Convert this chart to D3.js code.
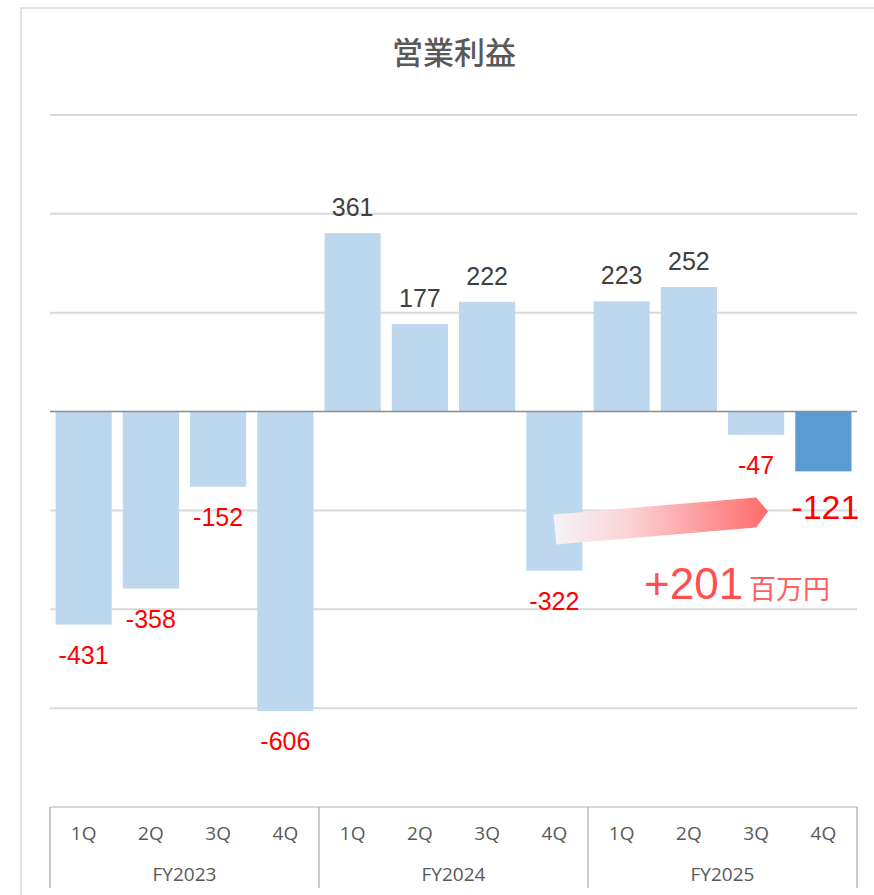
<!DOCTYPE html>
<html lang="ja">
<head>
    <meta charset="UTF-8">
    <title>営業利益</title>
    <script src="https://cdn.jsdelivr.net/npm/d3@7"></script>
    <style>
        body { margin: 0; background: #ffffff; }
        svg { display: block; }
    </style>
</head>
<body>
    <div id="graphDiv"></div>

    <script>
        // chart data
        var fiscalYears = ["FY2023", "FY2024", "FY2025"]
        var quarters = ["1Q", "2Q", "3Q", "4Q"]
        var profit = [-431, -358, -152, -606, 361, 177, 222, -322, 223, 252, -47, -121]
        var yTicks = [-800, -600, -400, -200, 0, 200, 400, 600]
        var chartTitle = "営業利益"
        var diffValue = "+201"
        var diffUnit = "百万円"

        var width = 874
        var height = 895
        var plotLeft = 50, plotRight = 857, plotTop = 115, plotBottom = 807

        var svg = d3.select('#graphDiv')
                    .append('svg')
                    .attr('width', width)
                    .attr('height', height)

        // outer chart frame
        svg.append('rect')
            .attr('x', 21).attr('y', 8)
            .attr('width', 900).attr('height', 950)
            .attr('fill', '#fff')
            .attr('stroke', '#d9d9d9')
            .attr('stroke-width', 1.5)

        svg.append('text')
            .attr('x', 454).attr('y', 64)
            .attr('text-anchor', 'middle')
            .attr('font-family', '"Noto Sans CJK JP", sans-serif')
            .attr('font-size', 31)
            .attr('font-weight', 500)
            .attr('fill', '#595959')
            .text(chartTitle)

        // one band per quarter
        var keys = []
        fiscalYears.forEach(fy => quarters.forEach(q => keys.push(fy + '-' + q)))

        var xScale = d3.scaleBand()
                        .domain(keys)
                        .range([plotLeft, plotRight])
                        .paddingInner(0.165)
                        .paddingOuter(0.0825)

        var yScale = d3.scaleLinear()
                        .domain([-800, 600])
                        .range([plotBottom, plotTop])

        // gridlines
        svg.append('g')
            .selectAll('line')
            .data(yTicks.filter(t => t !== 0 && t !== -800))
            .join('line')
            .attr('x1', plotLeft).attr('x2', plotRight)
            .attr('y1', d => yScale(d)).attr('y2', d => yScale(d))
            .attr('stroke', '#d9d9d9')
            .attr('stroke-width', 2)

        // bars
        var data = profit.map((v, i) => ({ key: keys[i], value: v, last: i === profit.length - 1 }))

        svg.append('g')
            .selectAll('rect')
            .data(data)
            .join('rect')
            .attr('x', d => xScale(d.key))
            .attr('y', d => yScale(Math.max(0, d.value)))
            .attr('width', xScale.bandwidth())
            .attr('height', d => Math.abs(yScale(d.value) - yScale(0)))
            .attr('fill', d => d.last ? '#5b9bd5' : '#bdd7ee')

        // zero line
        svg.append('line')
            .attr('x1', plotLeft).attr('x2', plotRight)
            .attr('y1', yScale(0)).attr('y2', yScale(0))
            .attr('stroke', '#8c8c8c')
            .attr('stroke-width', 1.5)

        // value labels
        svg.append('g')
            .selectAll('text')
            .data(data)
            .join('text')
            .attr('x', d => xScale(d.key) + xScale.bandwidth() / 2 + (d.last ? 2 : 0))
            .attr('y', d => d.value >= 0 ? yScale(d.value) - 17 : yScale(d.value) + (d.last ? 48 : 39))
            .attr('text-anchor', 'middle')
            .attr('font-family', '"Liberation Sans", Arial, sans-serif')
            .attr('font-size', d => d.last ? 34 : 25)
            .attr('fill', d => d.value >= 0 ? '#404040' : '#ff0000')
            .text(d => d.value)

        // category axis box
        var axis = svg.append('g')
        axis.append('line')
            .attr('x1', plotLeft).attr('x2', plotRight)
            .attr('y1', plotBottom).attr('y2', plotBottom)
            .attr('stroke', '#d9d9d9')
            .attr('stroke-width', 2)

        var seps = [0, 4, 8, 12].map(i => i < 12 ? xScale(keys[i]) - xScale.step() * xScale.paddingInner() / 2 : plotRight)
        seps[0] = plotLeft
        axis.selectAll('line.sep')
            .data(seps)
            .join('line')
            .attr('class', 'sep')
            .attr('x1', d => d).attr('x2', d => d)
            .attr('y1', plotBottom).attr('y2', 888)
            .attr('stroke', '#a6a6a6')
            .attr('stroke-width', 1.2)

        axis.selectAll('text.q')
            .data(keys)
            .join('text')
            .attr('class', 'q')
            .attr('x', d => xScale(d) + xScale.bandwidth() / 2)
            .attr('y', 840)
            .attr('text-anchor', 'middle')
            .attr('font-family', '"Open Sans", sans-serif')
            .attr('font-size', 19)
            .attr('fill', '#595959')
            .text(d => d.split('-')[1])

        axis.selectAll('text.fy')
            .data(fiscalYears)
            .join('text')
            .attr('class', 'fy')
            .attr('x', (d, i) => (seps[i] + seps[i + 1]) / 2)
            .attr('y', 881)
            .attr('text-anchor', 'middle')
            .attr('font-family', '"Open Sans", sans-serif')
            .attr('font-size', 19)
            .attr('fill', '#595959')
            .text(d => d)

        // change arrow from FY2024 4Q to FY2025 4Q
        var defs = svg.append('defs')
        var grad = defs.append('linearGradient')
            .attr('id', 'arrowGrad')
            .attr('x1', '0%').attr('x2', '100%')
            .attr('y1', '0%').attr('y2', '0%')
        grad.append('stop').attr('offset', '0%').attr('stop-color', '#f4f4f8')
        grad.append('stop').attr('offset', '35%').attr('stop-color', '#fbd3d6')
        grad.append('stop').attr('offset', '100%').attr('stop-color', '#ff6b6b')

        var ax0 = xScale(keys[7]) + xScale.bandwidth() / 2 - 1
        var ax1 = xScale(keys[10]) + xScale.bandwidth() / 2
        var ay = yScale(-200)
        var arrowPts = [
            [ax0, ay + 4], [ax1, ay - 13], [ax1 + 12, ay + 1],
            [ax1, ay + 17], [ax0 + 3, ay + 34]
        ]
        svg.append('polygon')
            .attr('points', arrowPts.map(p => p.join(',')).join(' '))
            .attr('fill', 'url(#arrowGrad)')

        var diff = svg.append('text')
            .attr('x', 644).attr('y', 599)
            .attr('fill', '#ff5050')
        diff.append('tspan')
            .attr('font-family', '"Liberation Sans", Arial, sans-serif')
            .attr('font-size', 44)
            .text(diffValue)
        diff.append('tspan')
            .attr('dx', 6)
            .attr('font-family', '"Noto Sans CJK JP", sans-serif')
            .attr('font-size', 27)
            .attr('fill', '#ff6060')
            .text(diffUnit)
    </script>
</body>
</html>
